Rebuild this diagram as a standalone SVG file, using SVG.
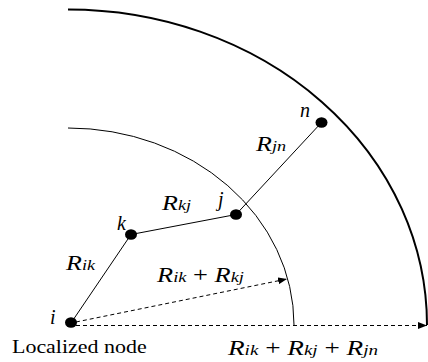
<svg xmlns="http://www.w3.org/2000/svg" width="428" height="362" viewBox="0 0 428 362">
<style>
text{font-family:'Liberation Serif','Times New Roman',serif;fill:#000}
.it{font-style:italic}
.big{font-size:20px}
.sub{font-size:14px}
.dot{fill:#000}
.ln{stroke:#000;stroke-width:1;fill:none}
.dash{stroke:#000;stroke-width:1;fill:none;stroke-dasharray:4 3}
</style>
<defs>
<marker id="ah" markerWidth="10" markerHeight="8" refX="9" refY="4" orient="auto" markerUnits="userSpaceOnUse">
<path d="M0,0.5 L9,4 L0,7.5 Z" fill="#000"/>
</marker>
</defs>
<g id="arcs">
<path class="ln" d="M68,128 A226,197 0 0 1 294,325"/>
<path class="ln" style="stroke-width:2" d="M68,9.5 A359,315.5 0 0 1 427,325"/>
</g>
<g id="connectors">
<line class="ln" x1="71" y1="323" x2="131" y2="234.5"/>
<line class="ln" x1="131" y1="234.5" x2="236" y2="214.5"/>
<line class="ln" x1="236" y1="214.5" x2="321.5" y2="122.5"/>
<line class="dash" x1="76" y1="322" x2="287" y2="279" marker-end="url(#ah)"/>
<line class="dash" x1="76" y1="325.5" x2="427" y2="325.5" marker-end="url(#ah)"/>
</g>
<g id="node-i">
<ellipse class="dot" cx="71" cy="322.5" rx="6" ry="5.3"/>
<text class="it big" x="50" y="324">i</text>
<text font-size="18" transform="translate(12,353) scale(1.22,1)">Localized node</text>
</g>
<g id="node-k">
<ellipse class="dot" cx="131" cy="234.5" rx="6" ry="5.3"/>
<text class="it big" x="117" y="230">k</text>
</g>
<g id="node-j">
<ellipse class="dot" cx="236" cy="214.5" rx="6" ry="5.3"/>
<text class="it big" x="218" y="206">j</text>
</g>
<g id="node-n">
<ellipse class="dot" cx="321.5" cy="122.5" rx="6" ry="5.3"/>
<text class="it big" x="300" y="117">n</text>
</g>
<g id="labels">
<text class="it big" transform="translate(66,270) scale(1.3,1)">R<tspan class="sub">ik</tspan></text>
<text class="it big" transform="translate(162,210) scale(1.3,1)">R<tspan class="sub">kj</tspan></text>
<text class="it big" transform="translate(256,151) scale(1.3,1)">R<tspan class="sub">jn</tspan></text>
<text class="it big" transform="translate(157,282) scale(1.32,1)">R<tspan class="sub">ik</tspan><tspan font-style="normal"> + </tspan>R<tspan class="sub">kj</tspan></text>
<text class="it big" transform="translate(228,355) scale(1.36,1)">R<tspan class="sub">ik</tspan><tspan font-style="normal"> + </tspan>R<tspan class="sub">kj</tspan><tspan font-style="normal"> + </tspan>R<tspan class="sub">jn</tspan></text>
</g>
</svg>
